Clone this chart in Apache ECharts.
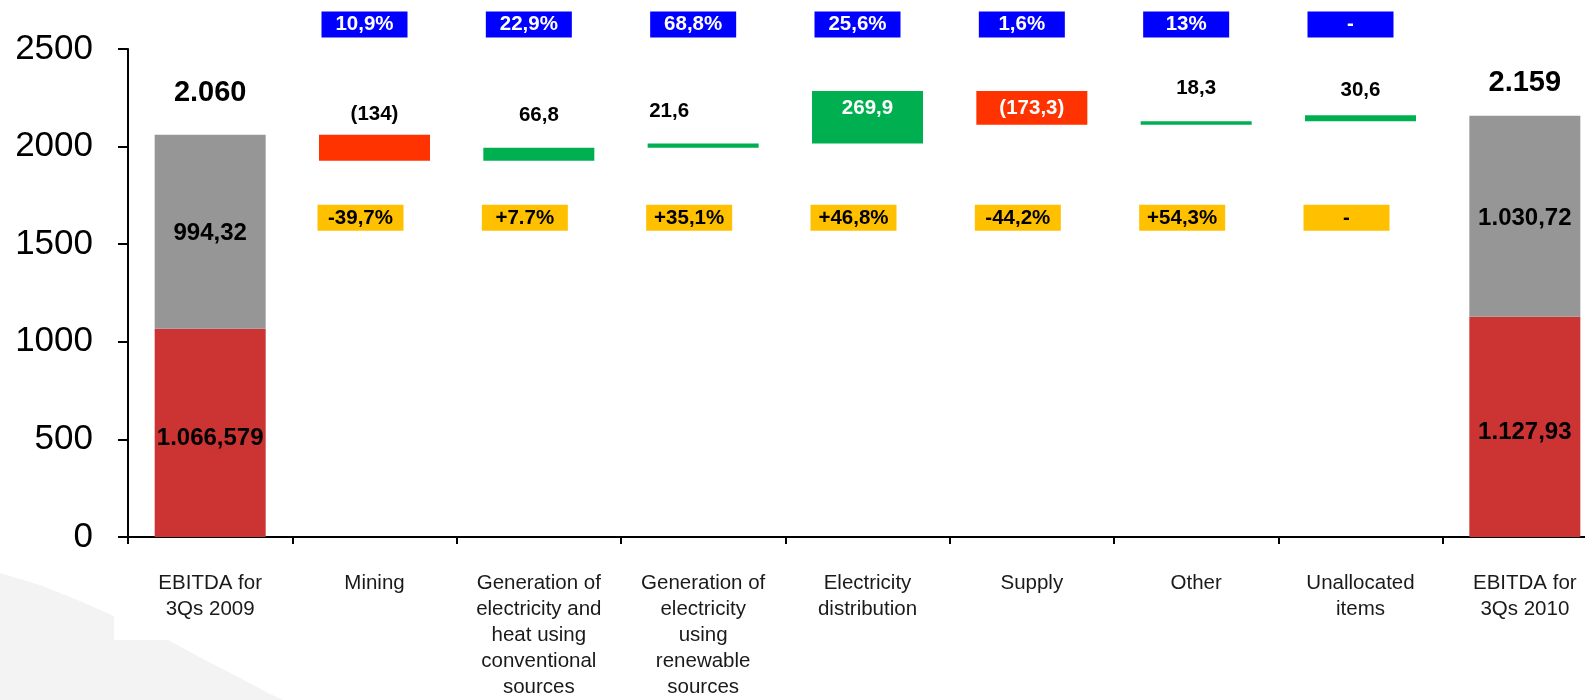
<!DOCTYPE html>
<html>
<head>
<meta charset="utf-8">
<title>EBITDA bridge</title>
<script src="https://cdn.jsdelivr.net/npm/echarts@6/dist/echarts.min.js"></script>
<style>
  html, body { margin: 0; padding: 0; background: #fff; overflow: hidden; width: 1585px; height: 700px; }
  /* the last category runs past the right edge of the slide */
  #chart { width: 1607px; height: 700px; }
</style>
</head>
<body>
<div id="chart"></div>
<script>
// data
const categories = [
  'EBITDA for\n3Qs 2009',
  'Mining',
  'Generation of\nelectricity and\nheat using\nconventional\nsources',
  'Generation of\nelectricity\nusing\nrenewable\nsources',
  'Electricity\ndistribution',
  'Supply',
  'Other',
  'Unallocated\nitems',
  'EBITDA for\n3Qs 2010'
];
const redPart = [1066.579, null, null, null, null, null, null, null, 1127.93];
const greyPart = [994.32, null, null, null, null, null, null, null, 1030.72];
const redText = ['1.066,579', '', '', '', '', '', '', '', '1.127,93'];
const greyText = ['994,32', '', '', '', '', '', '', '', '1.030,72'];
const totalText = ['2.060', '', '', '', '', '', '', '', '2.159'];
const deltas = [null, -134, 66.8, 21.6, 269.9, -173.3, 18.3, 30.6, null];
const deltaText = ['', '(134)', '66,8', '21,6', '269,9', '(173,3)', '18,3', '30,6', ''];
const blueText = ['', '10,9%', '22,9%', '68,8%', '25,6%', '1,6%', '13%', '-', ''];
const yellowText = ['', '-39,7%', '+7.7%', '+35,1%', '+46,8%', '-44,2%', '+54,3%', '-', ''];

const FONT = "'Liberation Sans', Arial, sans-serif";

// waterfall: invisible base + visible step
let level = redPart[0] + greyPart[0];
const baseData = [];
const stepData = [];
deltas.forEach((d, i) => {
  if (d === null) { baseData.push(null); stepData.push(null); return; }
  const next = level + d;
  baseData.push(Math.min(level, next));
  const inside = Math.abs(d) > 150;
  let dist = 22;
  if (inside) dist = 7;
  else if (i === 1) dist = 10;
  else if (i === 7) dist = 14;
  stepData.push({
    value: Math.abs(d),
    itemStyle: { color: d < 0 ? '#FF3300' : '#00B050' },
    label: {
      position: inside ? 'insideTop' : 'top',
      distance: dist,
      color: inside ? '#fff' : '#000',
      offset: i === 3 ? [-34, 0] : [0, 0]
    }
  });
  level = next;
});

// totals on top of the first and last columns
const totals = redPart
  .map((r, i) => (r === null ? null : {
    value: [i, r + greyPart[i]],
    label: { distance: i === 0 ? 27 : 18 }
  }))
  .filter(Boolean);

function boxRow(texts, yValue, bg, fg, dx) {
  return {
    type: 'scatter',
    silent: true,
    clip: false,
    symbol: 'rect',
    symbolSize: 1,
    itemStyle: { color: 'rgba(0,0,0,0)', opacity: 1 },
    data: texts.map((t, i) => (t ? [i, yValue] : null)).filter(Boolean),
    label: {
      show: true,
      position: 'inside',
      offset: [dx, 0],
      formatter: p => texts[p.value[0]],
      backgroundColor: bg,
      color: fg,
      opacity: 1,
      fontFamily: FONT,
      fontWeight: 'bold',
      fontSize: 20.5,
      width: 86,
      height: 26,
      lineHeight: 26,
      align: 'center',
      verticalAlign: 'middle'
    },
    z: 5
  };
}

const myChart = echarts.init(document.getElementById('chart'), null, { renderer: 'canvas' });
myChart.setOption({
  animation: false,
  backgroundColor: '#fff',
  textStyle: { fontFamily: FONT },
  graphic: [
    {
      type: 'polygon',
      z: -10,
      silent: true,
      shape: {
        points: [[0, 573], [40, 585], [80, 601], [114, 616], [114, 640], [168, 640],
                 [205, 660], [240, 678], [270, 694], [283, 700], [0, 700]]
      },
      style: { fill: '#f3f3f3' }
    }
  ],
  grid: { left: 128, top: 49, bottom: 154.5, right: 0 },
  xAxis: {
    type: 'category',
    data: categories,
    axisLine: { lineStyle: { color: '#000', width: 2 } },
    axisTick: { show: true, length: 7, lineStyle: { color: '#000', width: 2 } },
    axisLabel: {
      interval: 0,
      margin: 33,
      color: '#1a1a1a',
      fontFamily: FONT,
      fontSize: 20.5,
      lineHeight: 26
    },
    splitLine: { show: false }
  },
  yAxis: {
    type: 'value',
    min: 0,
    max: 2500,
    interval: 500,
    axisLine: { show: true, lineStyle: { color: '#000', width: 2 } },
    axisTick: { show: true, length: 10, lineStyle: { color: '#000', width: 2 } },
    axisLabel: {
      margin: 35,
      color: '#000',
      fontFamily: FONT,
      fontSize: 35,
      formatter: v => String(v)
    },
    splitLine: { show: false }
  },
  series: [
    {
      name: 'red',
      type: 'bar',
      stack: 'a',
      barWidth: 111,
      data: redPart,
      itemStyle: { color: '#CC3333' },
      label: {
        show: true,
        position: 'inside',
        offset: [0, 5],
        formatter: p => redText[p.dataIndex],
        color: '#000',
        fontFamily: FONT,
        fontWeight: 'bold',
        fontSize: 24
      }
    },
    {
      name: 'grey',
      type: 'bar',
      stack: 'a',
      data: greyPart,
      itemStyle: { color: '#969696' },
      label: {
        show: true,
        position: 'inside',
        offset: [0, 2],
        formatter: p => greyText[p.dataIndex],
        color: '#000',
        fontFamily: FONT,
        fontWeight: 'bold',
        fontSize: 24
      }
    },
    {
      name: 'base',
      type: 'bar',
      stack: 'a',
      silent: true,
      data: baseData,
      itemStyle: { color: 'rgba(0,0,0,0)' }
    },
    {
      name: 'step',
      type: 'bar',
      stack: 'a',
      data: stepData,
      label: {
        show: true,
        formatter: p => deltaText[p.dataIndex],
        fontFamily: FONT,
        fontWeight: 'bold',
        fontSize: 20.5
      }
    },
    {
      type: 'scatter',
      silent: true,
      clip: false,
      symbol: 'rect',
      symbolSize: 1,
      itemStyle: { color: 'rgba(0,0,0,0)', opacity: 1 },
      data: totals,
      label: {
        show: true,
        position: 'top',
        formatter: p => totalText[p.value[0]],
        color: '#000',
        opacity: 1,
        fontFamily: FONT,
        fontWeight: 'bold',
        fontSize: 29
      }
    },
    boxRow(blueText, 2625, '#0000FF', '#fff', -10),
    boxRow(yellowText, 1635, '#FFC000', '#000', -14)
  ]
});
</script>
</body>
</html>
